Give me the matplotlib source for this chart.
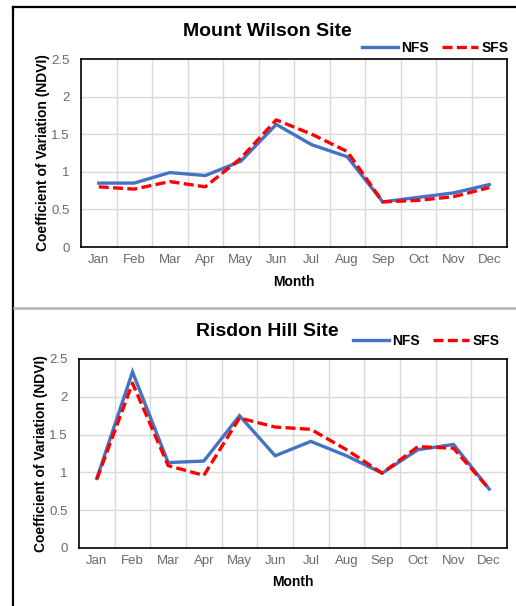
import matplotlib
matplotlib.use("Agg")
import matplotlib.pyplot as plt
from matplotlib.lines import Line2D

months = ["Jan", "Feb", "Mar", "Apr", "May", "Jun", "Jul", "Aug", "Sep", "Oct", "Nov", "Dec"]
mw_nfs = [0.85, 0.85, 0.99, 0.95, 1.14, 1.63, 1.36, 1.20, 0.60, 0.66, 0.72, 0.83]
mw_sfs = [0.80, 0.77, 0.87, 0.80, 1.18, 1.69, 1.50, 1.27, 0.60, 0.62, 0.67, 0.79]
rh_nfs = [0.92, 2.33, 1.13, 1.15, 1.75, 1.22, 1.41, 1.22, 0.99, 1.30, 1.37, 0.78]
rh_sfs = [0.91, 2.18, 1.09, 0.96, 1.72, 1.60, 1.57, 1.30, 0.99, 1.34, 1.32, 0.78]
titles = ["Mount Wilson Site", "Risdon Hill Site"]
yticks = [0, 0.5, 1, 1.5, 2, 2.5]
ytick_labels = ["0", "0.5", "1", "1.5", "2", "2.5"]

W, H = 516, 606
fig = plt.figure(figsize=(W / 100, H / 100), dpi=100)
plt.rcParams['font.family'] = ['Liberation Sans', 'DejaVu Sans']

def px(l, t, r, b):
    return [l / W, 1 - b / H, (r - l) / W, (b - t) / H]

# frame lines
fig.add_artist(Line2D([12.5 / W, 12.5 / W], [0, 1 - 7 / H], color='black', lw=1.6))
fig.add_artist(Line2D([12.5 / W, 1], [1 - 7 / H, 1 - 7 / H], color='black', lw=1.6))
fig.add_artist(Line2D([14 / W, 1], [1 - 307.5 / H, 1 - 307.5 / H], color='#b4b4b4', lw=1.8))

panels = [
    dict(rect=px(81, 59, 507, 247), nfs=mw_nfs, sfs=mw_sfs, title=titles[0],
         title_y=31, xlab_y=282, leg=(362, 48)),
    dict(rect=px(79, 359, 507, 548), nfs=rh_nfs, sfs=rh_sfs, title=titles[1],
         title_y=331, xlab_y=582, leg=(353, 341)),
]

x = list(range(len(months)))
for p in panels:
    ax = fig.add_axes(p['rect'])
    ax.plot(x, p['nfs'], color='#4472C4', lw=2.4, label='NFS', solid_joinstyle='miter')
    ax.plot(x, p['sfs'], color='#FF0000', lw=2.4, ls=(0, (3.0, 1.3)), label='SFS')
    ax.set_xlim(-0.5, 11.5)
    ax.set_ylim(0, 2.5)
    ax.set_yticks(yticks)
    ax.set_yticklabels(ytick_labels)
    ax.set_xticks(x)
    ax.set_xticklabels(months)
    ax.grid(False)
    for yv in yticks[1:-1]:
        ax.axhline(yv, color='#d9d9d9', lw=1.0, zorder=0)
    for xv in [i + 0.5 for i in range(11)]:
        ax.axvline(xv, color='#d9d9d9', lw=1.0, zorder=0)
    ax.tick_params(axis='both', which='both', length=0, labelsize=9.5, labelcolor='#6a6a6a')
    ax.tick_params(axis='x', pad=5)
    ax.tick_params(axis='y', pad=8)
    for s in ax.spines.values():
        s.set_linewidth(1.2)
        s.set_color('black')
    ax.set_ylabel('Coefficient of Variation (NDVI)', fontsize=10, fontweight='bold', labelpad=1)
    fig.text(267 / W, 1 - p['title_y'] / H, p['title'], ha='center', va='center',
             fontsize=14, fontweight='bold')
    fig.text(0.5 * (p['rect'][0] * W + p['rect'][0] * W + p['rect'][2] * W) / W,
             1 - p['xlab_y'] / H, 'Month', ha='center', va='center',
             fontsize=10, fontweight='bold')
    lx, ly = p['leg']
    leg = ax.legend(loc='center left', bbox_to_anchor=(lx / W, 1 - ly / H),
                    bbox_transform=fig.transFigure, ncol=2, frameon=False,
                    handlelength=2.6, handletextpad=0.25, columnspacing=0.9,
                    prop=dict(weight='bold', size=10), borderpad=0, borderaxespad=0)

fig.savefig('out.png', dpi=100, facecolor='white')
